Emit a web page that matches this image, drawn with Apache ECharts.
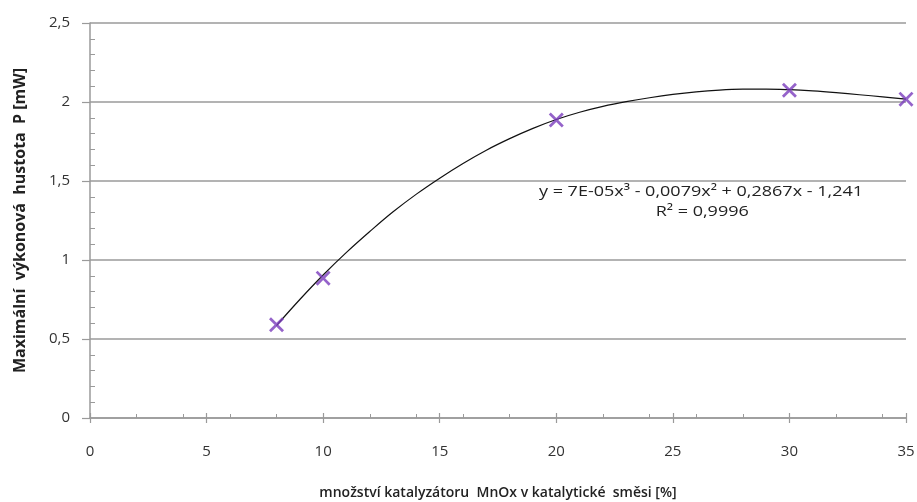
<!DOCTYPE html>
<html>
<head>
<meta charset="utf-8">
<script src="https://cdn.jsdelivr.net/npm/echarts@6/dist/echarts.min.js"></script>
<style>html,body{margin:0;padding:0;background:#fff;}#c{width:917px;height:502px;}</style>
</head>
<body>
<div id="c"></div>
<script>
// measured points
const xValues = [8, 10, 20, 30, 35];
const yValues = [0.59, 0.885, 1.886, 2.074, 2.018];
// trendline (polynomial, order 3)
const trendX = [8, 9, 10, 11, 12, 13, 14, 15, 16, 17, 18, 19, 20, 21, 22, 23, 24, 25, 26, 27, 28, 29, 30, 31, 32, 33, 34, 35];
const trendY = [0.585, 0.75, 0.905, 1.048, 1.18, 1.305, 1.417, 1.518, 1.611, 1.695, 1.768, 1.833, 1.889, 1.935, 1.972, 2.002, 2.027, 2.048, 2.064, 2.075, 2.081, 2.082, 2.078, 2.07, 2.059, 2.046, 2.033, 2.018];
const xTicks = [0, 5, 10, 15, 20, 25, 30, 35];
const yTicks = [0, 0.5, 1, 1.5, 2, 2.5];
const eqLine1 = 'y = 7E-05x³ - 0,0079x² + 0,2867x - 1,241';
const eqLine2 = 'R² = 0,9996';
const xTitle = 'množství katalyzátoru  MnOx v katalytické  směsi [%]';
const yTitle = 'Maximální  výkonová  hustota  P [mW]';

const FONT = '"Open Sans", "Noto Sans", sans-serif';
const axisGray = '#9a9a9a';
const fmt = v => String(v).replace('.', ',');

const chart = echarts.init(document.getElementById('c'), null, {renderer: 'canvas'});
const xBase = {type: 'value', min: xTicks[0], max: xTicks[xTicks.length - 1], position: 'bottom'};
const yBase = {type: 'value', min: yTicks[0], max: yTicks[yTicks.length - 1], position: 'left'};

chart.setOption({
  animation: false,
  grid: {left: 90, right: 11, top: 23, bottom: 84, containLabel: false, outerBoundsMode: 'none'},
  xAxis: [
    Object.assign({}, xBase, {
      interval: 5,
      axisLine: {show: true, lineStyle: {color: axisGray, width: 1.5}},
      axisTick: {show: true, length: 5, lineStyle: {color: axisGray, width: 1.2}},
      axisLabel: {margin: 26, fontFamily: FONT, fontSize: 15, color: '#333', formatter: fmt},
      splitLine: {show: false},
      name: xTitle, nameLocation: 'middle', nameGap: 68,
      nameTextStyle: {fontFamily: FONT, fontSize: 14, fontWeight: 600, color: '#222'}
    }),
    Object.assign({}, xBase, {
      interval: 5,
      axisLine: {show: false},
      axisTick: {show: true, inside: true, length: 5, lineStyle: {color: axisGray, width: 1.2}},
      axisLabel: {show: false}, splitLine: {show: false}
    }),
    Object.assign({}, xBase, {
      interval: 2,
      axisLine: {show: false},
      axisTick: {show: true, inside: true, length: 4, lineStyle: {color: axisGray, width: 1}},
      axisLabel: {show: false}, splitLine: {show: false}
    })
  ],
  yAxis: [
    Object.assign({}, yBase, {
      interval: 0.5,
      axisLine: {show: true, lineStyle: {color: axisGray, width: 1.5}},
      axisTick: {show: true, length: 8, lineStyle: {color: axisGray, width: 1.2}},
      axisLabel: {margin: 20, fontFamily: FONT, fontSize: 15, color: '#333', formatter: fmt},
      splitLine: {show: true, lineStyle: {color: axisGray, width: 1.5}},
      name: yTitle, nameLocation: 'middle', nameGap: 62, nameRotate: 90,
      nameTextStyle: {fontFamily: FONT, fontSize: 16, fontWeight: 700, color: '#222'}
    }),
    Object.assign({}, yBase, {
      interval: 0.5,
      axisLine: {show: false},
      axisTick: {show: false, inside: true},
      minorTick: {show: true, splitNumber: 5, length: 5, lineStyle: {color: axisGray, width: 1}},
      axisLabel: {show: false}, splitLine: {show: false}
    })
  ],
  series: [
    {
      type: 'line', xAxisIndex: 0, yAxisIndex: 0,
      data: trendX.map((x, i) => [x, trendY[i]]),
      smooth: 0.4, showSymbol: false, symbol: 'none',
      lineStyle: {color: '#111', width: 1.2}, z: 2
    },
    {
      type: 'scatter', xAxisIndex: 0, yAxisIndex: 0,
      data: xValues.map((x, i) => [x, yValues[i]]),
      symbol: 'path://M0,1.3L1.3,0L5,3.7L8.7,0L10,1.3L6.3,5L10,8.7L8.7,10L5,6.3L1.3,10L0,8.7L3.7,5Z',
      symbolSize: 15,
      itemStyle: {color: '#7a3cbd'}, z: 3
    }
  ],
  graphic: [
    {
      type: 'group', x: 701, y: 192, scaleX: 1.2,
      children: [
        {type: 'text', x: 0, y: 0, style: {text: eqLine1, font: '15px ' + FONT, fill: '#222', align: 'center', verticalAlign: 'middle'}},
        {type: 'text', x: 1, y: 20, style: {text: eqLine2, font: '15px ' + FONT, fill: '#222', align: 'center', verticalAlign: 'middle'}}
      ]
    }
  ]
});
</script>
</body>
</html>
